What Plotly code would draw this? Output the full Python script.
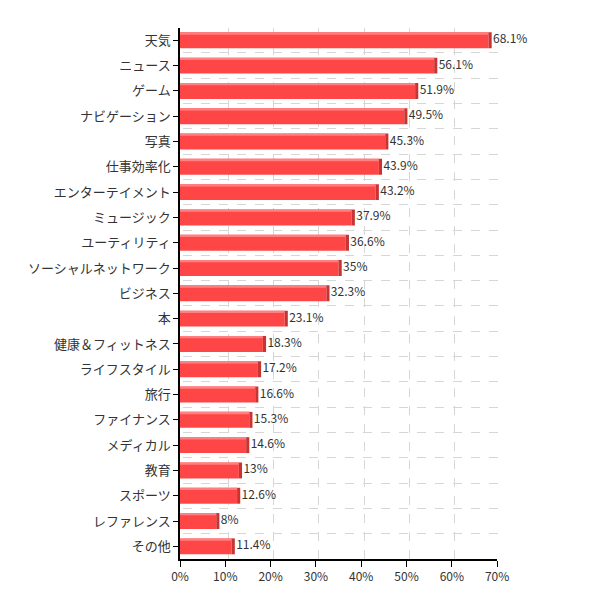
import plotly.graph_objects as go

categories = ["天気", "ニュース", "ゲーム", "ナビゲーション", "写真", "仕事効率化",
              "エンターテイメント", "ミュージック", "ユーティリティ", "ソーシャルネットワーク",
              "ビジネス", "本", "健康＆フィットネス", "ライフスタイル", "旅行", "ファイナンス",
              "メディカル", "教育", "スポーツ", "レファレンス", "その他"]
values = [68.1, 56.1, 51.9, 49.5, 45.3, 43.9, 43.2, 37.9, 36.6, 35, 32.3, 23.1,
          18.3, 17.2, 16.6, 15.3, 14.6, 13, 12.6, 8, 11.4]

pos = list(range(len(categories)))
depth = 0.7  # width of the shaded right face, in % units
font = dict(family="Noto Sans CJK JP, sans-serif", size=12, color="#333")

fig = go.Figure()

# dummy trace so the grid subplot is drawn first
fig.add_trace(go.Scatter(x=[None], y=[None], xaxis="x", yaxis="y", hoverinfo="skip"))

# main bar body
fig.add_trace(go.Bar(x=values, y=pos, orientation="h", width=0.63,
                     marker=dict(color="#ff4646", line_width=0),
                     xaxis="x2", yaxis="y2", hoverinfo="skip"))
# lighter top face
fig.add_trace(go.Bar(x=values, y=pos, orientation="h", width=0.09, offset=-0.315,
                     marker=dict(color="#ff8080", line_width=0),
                     xaxis="x2", yaxis="y2", hoverinfo="skip"))
# darker right face
fig.add_trace(go.Bar(x=[depth] * len(values), base=values, y=pos, orientation="h",
                     width=0.63, marker=dict(color="#c83434", line_width=0),
                     xaxis="x2", yaxis="y2", hoverinfo="skip"))
# value labels
fig.add_trace(go.Scatter(x=[v + depth + 0.3 for v in values], y=pos, mode="text",
                         text=[f"{v:g}%" for v in values], textposition="middle right",
                         textfont=font, cliponaxis=False,
                         xaxis="x2", yaxis="y2", hoverinfo="skip"))

grid_y = [p - 0.5 for p in pos]

fig.update_layout(
    width=598, height=598,
    margin=dict(l=180, r=98, t=25, b=39),
    paper_bgcolor="white", plot_bgcolor="rgba(0,0,0,0)",
    barmode="overlay", showlegend=False, font=font,
    # shifted back wall carrying the dashed grid
    xaxis=dict(domain=[0.009, 1], range=[0, 70], dtick=10, showticklabels=False,
               showgrid=True, gridcolor="#d6d6d6", griddash="dash", gridwidth=1,
               zeroline=False, showline=False, ticks="", automargin=False),
    yaxis=dict(domain=[0, 0.995], range=[20.5, -0.5], tickvals=grid_y,
               showticklabels=False, showgrid=True, gridcolor="#d6d6d6",
               griddash="dash", zeroline=False, showline=False, ticks="",
               automargin=False),
    xaxis2=dict(domain=[0, 0.991], anchor="y2", range=[0, 70], dtick=10,
                ticksuffix="%", showgrid=False, zeroline=False,
                showline=True, linecolor="black", linewidth=1.5,
                ticks="outside", ticklen=6, tickcolor="black", tickfont=font,
                automargin=False),
    yaxis2=dict(domain=[0, 0.995], anchor="x2", range=[20.5, -0.5],
                tickvals=pos, ticktext=categories, showgrid=False, zeroline=False,
                showline=True, linecolor="black", linewidth=1.5,
                ticks="outside", ticklen=5, tickcolor="black",
                tickfont=dict(font, size=13), automargin=False),
)

fig.write_html("out.html", config={"displayModeBar": False},
               post_script="document.body.style.margin='0';")
